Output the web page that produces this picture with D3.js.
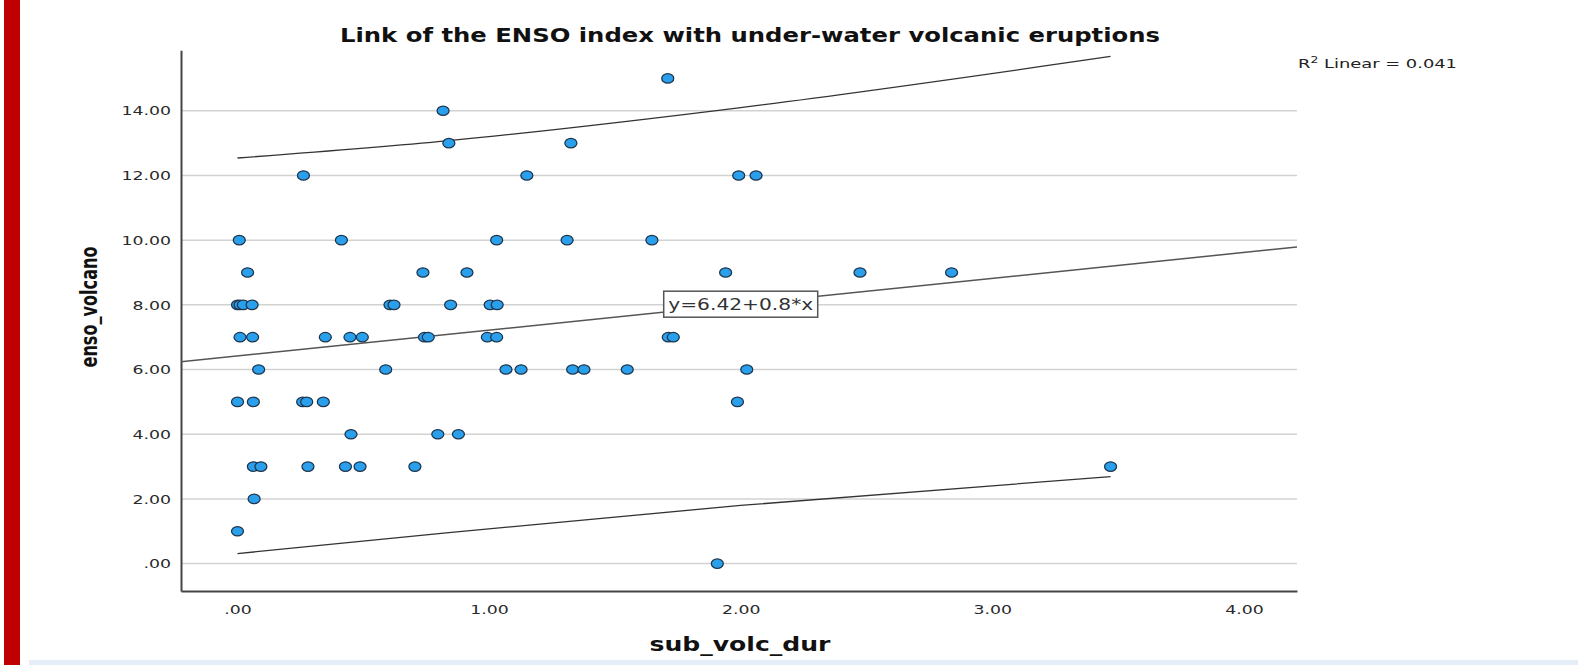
<!DOCTYPE html>
<html><head><meta charset="utf-8">
<script src="https://cdn.jsdelivr.net/npm/d3@7"></script>
<style>body{margin:0;background:#fff;} svg{display:block;}</style>
</head><body>
<svg id="chart" width="1578" height="665"></svg>
<script>
// ---- data ----
const subVolcDur = [
  1.71,
  0.817,
  0.84, 1.325,
  0.262, 1.15, 1.992, 2.061,
  0.007, 0.413, 1.03, 1.31, 1.647,
  0.04, 0.737, 0.912, 1.94, 2.474, 2.838,
  0.0, 0.01, 0.023, 0.058, 0.606, 0.622, 0.847, 1.004, 1.032,
  0.01, 0.06, 0.349, 0.447, 0.496, 0.743, 0.758, 0.993, 1.03, 1.712, 1.732,
  0.084, 0.589, 1.067, 1.127, 1.332, 1.377, 1.549, 2.024,
  0.0, 0.063, 0.259, 0.275, 0.341, 1.987,
  0.451, 0.796, 0.878,
  0.063, 0.093, 0.28, 0.429, 0.487, 0.705, 3.47,
  0.066,
  0.0,
  1.907
];
const ensoVolcano = [
  15,
  14,
  13, 13,
  12, 12, 12, 12,
  10, 10, 10, 10, 10,
  9, 9, 9, 9, 9, 9,
  8, 8, 8, 8, 8, 8, 8, 8, 8,
  7, 7, 7, 7, 7, 7, 7, 7, 7, 7, 7,
  6, 6, 6, 6, 6, 6, 6, 6,
  5, 5, 5, 5, 5, 5,
  4, 4, 4,
  3, 3, 3, 3, 3, 3, 3,
  2,
  1,
  0
];
const xTicks = [0, 1, 2, 3, 4];
const xTickLabels = [".00", "1.00", "2.00", "3.00", "4.00"];
const yTicks = [0, 2, 4, 6, 8, 10, 12, 14];
const yTickLabels = [".00", "2.00", "4.00", "6.00", "8.00", "10.00", "12.00", "14.00"];
const fitIntercept = 6.42;
const fitSlope = 0.8;
const fitLabelText = "y=6.42+0.8*x";
const fitLabelAtX = 2.0;
const r2Text = "0.041";
// 95% individual prediction interval
const piX = [0.0, 0.84, 2.0, 3.47];
const piUpper = [12.54, 13.08, 14.1, 15.68];
const piLower = [0.31, 0.96, 1.8, 2.69];
const titleText = "Link of the ENSO index with under-water volcanic eruptions";
const xLabelText = "sub_volc_dur";
const yLabelText = "enso_volcano";

// ---- drawing ----
const svg = d3.select("#chart");
const FONT = "'DejaVu Sans', sans-serif";
const STRETCH = 1.33;

// page decorations
svg.append("rect").attr("x", 0).attr("y", 0).attr("width", 1578).attr("height", 665).attr("fill", "#fff");
svg.append("rect").attr("x", 4).attr("y", 0).attr("width", 16).attr("height", 665).attr("fill", "#c00000");
svg.append("rect").attr("x", 29).attr("y", 660).attr("width", 1549).attr("height", 5).attr("fill", "#e4edf8");

const x = d3.scaleLinear().domain([-0.2246, 4.211]).range([181, 1297]);
const y = d3.scaleLinear().domain([-0.847, 15.87]).range([591, 50.3]);

// gridlines
svg.append("g").selectAll("line").data(yTicks).join("line")
  .attr("x1", x.range()[0]).attr("x2", x.range()[1])
  .attr("y1", d => y(d)).attr("y2", d => y(d))
  .attr("stroke", "#d2d2d2").attr("stroke-width", 1.5);

function stretchText(sel, k) {
  sel.each(function () {
    const w = this.getComputedTextLength();
    d3.select(this).attr("textLength", w * k).attr("lengthAdjust", "spacingAndGlyphs");
  });
}

// axes
const gy = svg.append("g").attr("transform", `translate(${x.range()[0]},0)`)
  .call(d3.axisLeft(y).tickValues(yTicks).tickFormat((d, i) => yTickLabels[i])
    .tickSize(0).tickSizeOuter(0).tickPadding(10));
const gx = svg.append("g").attr("transform", `translate(0,${y.range()[0]})`)
  .call(d3.axisBottom(x).tickValues(xTicks).tickFormat((d, i) => xTickLabels[i])
    .tickSize(0).tickSizeOuter(0).tickPadding(13.5));
[gy, gx].forEach(g => {
  g.select(".domain").attr("stroke", "#444").attr("stroke-width", 2);
  g.selectAll("text").attr("font-family", FONT).attr("font-size", 13).attr("fill", "#2a2a2a");
  stretchText(g.selectAll("text"), STRETCH);
});

// prediction interval lines
const piLine = d3.line().x(d => x(d[0])).y(d => y(d[1])).curve(d3.curveMonotoneX);
svg.append("path").datum(piX.map((v, i) => [v, piUpper[i]]))
  .attr("d", piLine).attr("fill", "none").attr("stroke", "#333").attr("stroke-width", 1.3);
svg.append("path").datum(piX.map((v, i) => [v, piLower[i]]))
  .attr("d", piLine).attr("fill", "none").attr("stroke", "#333").attr("stroke-width", 1.3);

// fit line
const fitPts = x.domain().map(v => [v, fitIntercept + fitSlope * v]);
svg.append("path").datum(fitPts)
  .attr("d", d3.line().x(d => x(d[0])).y(d => y(d[1])))
  .attr("fill", "none").attr("stroke", "#555").attr("stroke-width", 1.5);

// points
svg.append("g").selectAll("ellipse").data(subVolcDur.map((v, i) => [v, ensoVolcano[i]])).join("ellipse")
  .attr("cx", d => x(d[0])).attr("cy", d => y(d[1]))
  .attr("rx", 6).attr("ry", 4.7)
  .attr("fill", "#2a9fec").attr("stroke", "#1d344b").attr("stroke-width", 1.25);

// fit label box
const lb = svg.append("g")
  .attr("transform", `translate(${x(fitLabelAtX)},${y(fitIntercept + fitSlope * fitLabelAtX)})`);
lb.append("rect").attr("x", -77).attr("y", -13).attr("width", 154).attr("height", 26)
  .attr("fill", "#fff").attr("stroke", "#555").attr("stroke-width", 1.5);
lb.append("text").attr("text-anchor", "middle").attr("dy", "0.36em")
  .attr("font-family", FONT).attr("font-size", 15.5).attr("fill", "#333")
  .attr("textLength", 145).attr("lengthAdjust", "spacingAndGlyphs")
  .text(fitLabelText);

// R2 label
const r2 = svg.append("text").attr("x", 1298).attr("y", 68)
  .attr("font-family", FONT).attr("font-size", 13).attr("fill", "#222");
r2.append("tspan").text("R");
r2.append("tspan").attr("font-size", 9).attr("dy", -5).text("2");
r2.append("tspan").attr("dy", 5).text(" Linear = " + r2Text);
r2.attr("textLength", 159).attr("lengthAdjust", "spacingAndGlyphs");

// title and axis labels
svg.append("text").attr("x", 750).attr("y", 42).attr("text-anchor", "middle")
  .attr("font-family", FONT).attr("font-weight", "bold").attr("font-size", 20).attr("fill", "#111")
  .attr("textLength", 820).attr("lengthAdjust", "spacingAndGlyphs")
  .text(titleText);
svg.append("text").attr("x", 740).attr("y", 651).attr("text-anchor", "middle")
  .attr("font-family", FONT).attr("font-weight", "bold").attr("font-size", 20).attr("fill", "#111")
  .attr("textLength", 181).attr("lengthAdjust", "spacingAndGlyphs")
  .text(xLabelText);
svg.append("text").attr("transform", "translate(97,307) scale(1.3,1) rotate(-90)")
  .attr("text-anchor", "middle")
  .attr("font-family", FONT).attr("font-weight", "bold").attr("font-size", 18).attr("fill", "#111")
  .attr("textLength", 121).attr("lengthAdjust", "spacingAndGlyphs")
  .text(yLabelText);
</script>
</body></html>
